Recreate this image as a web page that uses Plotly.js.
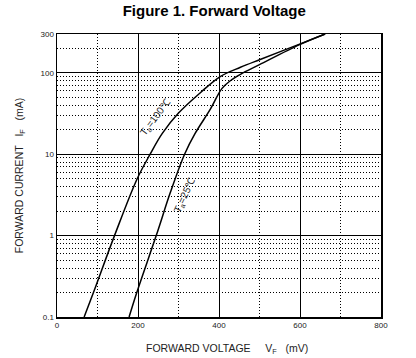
<!DOCTYPE html>
<html><head><meta charset="utf-8">
<script src="https://cdn.plot.ly/plotly-3.0.1.min.js"></script>
<style>html,body{margin:0;padding:0;background:#fff}#c{width:416px;height:358px}</style>
</head><body><div id="c"></div>
<script>
const vf100 = [67, 90, 142, 198, 230, 260, 300, 354, 403, 453, 500, 599, 662];
const if100 = [0.1, 0.2, 1, 5, 10, 18, 32, 57, 90, 117, 145, 225, 300];
const vf25 = [178, 197, 245, 280, 315, 341, 379, 407, 428, 453, 500, 599, 662];
const if25 = [0.1, 0.2, 1, 3.4, 10, 18, 36, 64, 80, 96, 126, 222, 300];
const xTicks = [0, 200, 400, 600, 800];
const yTicks = [0.1, 1, 10, 100, 300];
const yTickText = ['0.1', '1', '10', '100', '300'];
const yMinor = [0.2,0.3,0.4,0.5,0.6,0.7,0.8,0.9,2,3,4,5,6,7,8,9,20,30,40,50,60,70,80,90,200];
const labels = [
  {text: 'T<sub>a</sub>=100℃', x: 244, y: 28.6, angle: -53},
  {text: 'T<sub>a</sub>=25℃', x: 316, y: 3.15, angle: -65}
];
const NB = '\u00a0';
const F = 'Arial, "Liberation Sans", sans-serif';
const xTitle = 'FORWARD VOLTAGE' + NB.repeat(5) + 'V<sub>F</sub>' + NB.repeat(3) + '(mV)';
const yTitle = 'FORWARD CURRENT' + NB.repeat(3) + 'I<sub>F</sub>' + NB.repeat(3) + '(mA)';
const lineStyle = {color: '#000', width: 1.5, shape: 'spline', smoothing: 1};
const traces = [
  {x: vf100, y: if100, mode: 'lines', line: lineStyle, hoverinfo: 'skip'},
  {x: vf25, y: if25, mode: 'lines', line: lineStyle, hoverinfo: 'skip'}
];
const annots = labels.map(l => ({text: l.text, x: l.x, y: Math.log10(l.y), xref: 'x', yref: 'y', showarrow: false, textangle: l.angle, font: {family: F, size: 10, color: '#222'}}));
annots.push({text: xTitle, xref: 'paper', yref: 'paper', x: 0.525, y: -0.113, xanchor: 'center', yanchor: 'middle', showarrow: false, font: {family: F, size: 10.5, color: '#222'}});
const layout = {
  width: 416, height: 358,
  margin: {l: 57, r: 35, t: 34, b: 41},
  paper_bgcolor: '#fff', plot_bgcolor: '#fff',
  showlegend: false,
  font: {family: F, color: '#000'},
  title: {text: '<b>Figure 1. Forward Voltage</b>', font: {family: F, size: 15, color: '#000'}, x: 0.515, xanchor: 'center', y: 0.985, yanchor: 'top'},
  xaxis: {
    range: [0, 800], tickmode: 'array', tickvals: xTicks, ticktext: xTicks.map(String),
    showgrid: true, gridcolor: '#000', gridwidth: 1,
    minor: {tickmode: 'linear', dtick: 100, showgrid: true, gridcolor: '#000', griddash: '1px,2px', gridwidth: 1},
    showline: true, linecolor: '#000', linewidth: 1.5, mirror: true, ticks: '', zeroline: false,
    tickfont: {family: F, size: 8, color: '#222'}
  },
  yaxis: {
    type: 'log', range: [-1, Math.log10(300)], tickmode: 'array', tickvals: yTicks, ticktext: yTickText,
    showgrid: true, gridcolor: '#000', gridwidth: 1,
    minor: {tickmode: 'array', tickvals: yMinor, showgrid: true, gridcolor: '#000', griddash: '1px,2px', gridwidth: 1},
    showline: true, linecolor: '#000', linewidth: 1.5, mirror: true, ticks: '', zeroline: false,
    tickfont: {family: F, size: 8, color: '#222'},
    title: {text: yTitle, font: {family: F, size: 10.5, color: '#222'}, standoff: 15}
  },
  annotations: annots
};
Plotly.newPlot('c', traces, layout, {staticPlot: true, displayModeBar: false});
</script></body></html>
